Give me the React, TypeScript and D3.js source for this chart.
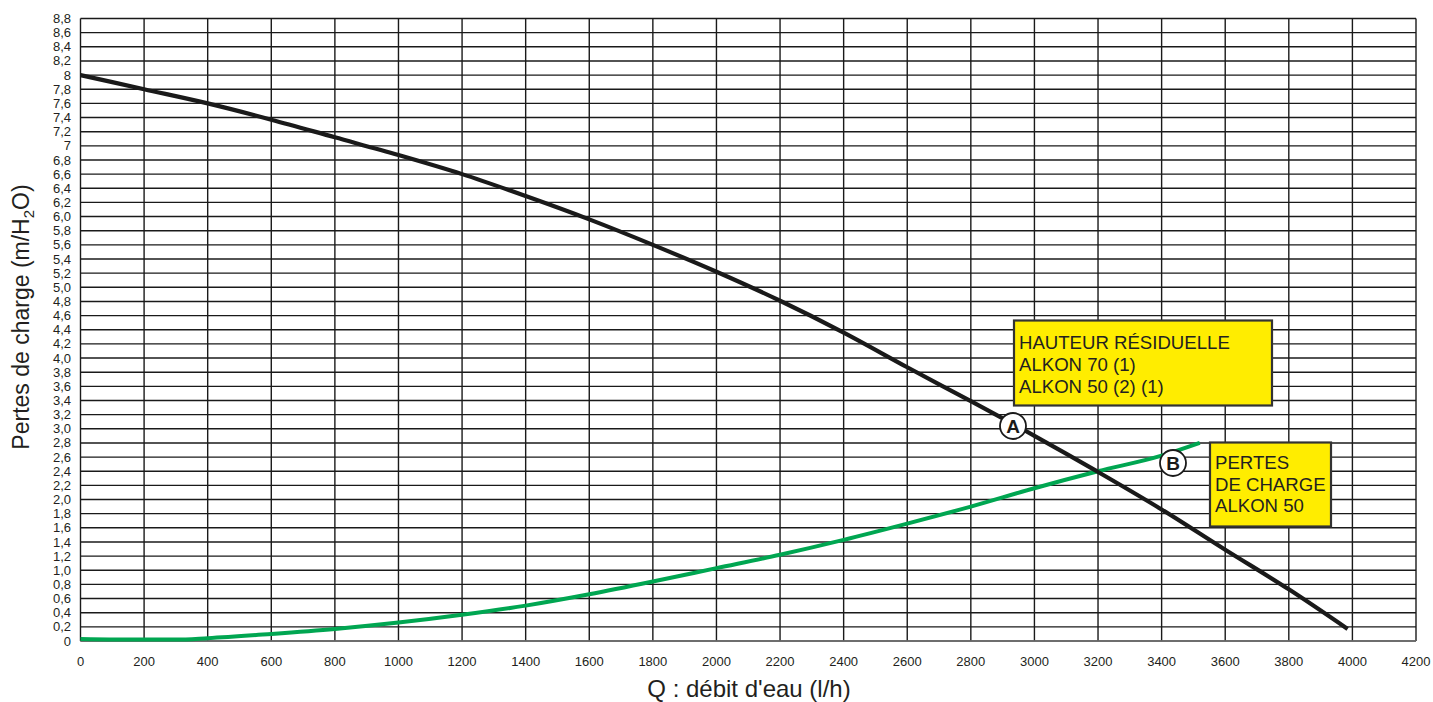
import React from "react";
import * as d3 from "d3";

const xTicks = [0,200,400,600,800,1000,1200,1400,1600,1800,2000,2200,2400,2600,2800,3000,3200,3400,3600,3800,4000,4200];
const yTickValues = [0,0.2,0.4,0.6,0.8,1.0,1.2,1.4,1.6,1.8,2.0,2.2,2.4,2.6,2.8,3.0,3.2,3.4,3.6,3.8,4.0,4.2,4.4,4.6,4.8,5.0,5.2,5.4,5.6,5.8,6.0,6.2,6.4,6.6,6.8,7.0,7.2,7.4,7.6,7.8,8.0,8.2,8.4,8.6,8.8];
const yTickLabels = ["0","0,2","0,4","0,6","0,8","1,0","1,2","1,4","1,6","1,8","2,0","2,2","2,4","2,6","2,8","3,0","3,2","3,4","3,6","3,8","4,0","4,2","4,4","4,6","4,8","5,0","5,2","5,4","5,6","5,8","6,0","6,2","6,4","6,6","6,8","7","7,2","7,4","7,6","7,8","8","8,2","8,4","8,6","8,8"];

const curveAQ = [0,200,400,600,800,1000,1200,1400,1600,1800,2000,2200,2400,2600,2800,3000,3200,3400,3600,3800,3985];
const curveAH = [8.0,7.8,7.6,7.37,7.12,6.87,6.6,6.29,5.96,5.6,5.22,4.81,4.36,3.87,3.39,2.9,2.39,1.86,1.29,0.73,0.17];

const curveBQ = [0,200,300,400,600,800,1000,1200,1400,1600,1800,2000,2200,2400,2600,2800,3000,3200,3400,3520];
const curveBH = [0.03,0.02,0.02,0.04,0.1,0.17,0.26,0.37,0.5,0.66,0.84,1.03,1.22,1.43,1.66,1.9,2.16,2.4,2.62,2.8];

const box1Lines = ["HAUTEUR RÉSIDUELLE", "ALKON 70 (1)", "ALKON 50 (2) (1)"];
const box2Lines = ["PERTES", "DE CHARGE", "ALKON 50"];

const W = 1433, H = 702;
const left = 80.5, right = 1416, top = 18.5, bottom = 641;

export default function App() {
  const x = d3.scaleLinear().domain([0, 4200]).range([left, right]);
  const y = d3.scaleLinear().domain([0, 8.8]).range([bottom, top]);
  const line = d3.line<[number, number]>().x(d => x(d[0])).y(d => y(d[1])).curve(d3.curveMonotoneX);
  const pathA = line(curveAQ.map((q, i) => [q, curveAH[i]]) as [number, number][]) || "";
  const pathB = line(curveBQ.map((q, i) => [q, curveBH[i]]) as [number, number][]) || "";
  const font = "'Liberation Sans', Arial, sans-serif";
  const tc = "#231f20";

  return (
    <svg width={W} height={H} style={{ position: "absolute", left: 0, top: 0, background: "#fff" }} fontFamily={font}>
      <rect x={0} y={0} width={W} height={H} fill="#fff" />
      {yTickValues.map((v, i) => (
        <line key={"h" + i} x1={left} x2={right} y1={y(v)} y2={y(v)} stroke="#1a1a1a" strokeWidth={1.4} />
      ))}
      {xTicks.map((v, i) => (
        <line key={"v" + i} x1={x(v)} x2={x(v)} y1={top} y2={bottom} stroke="#1a1a1a" strokeWidth={1.4} />
      ))}
      <line x1={left} x2={right} y1={bottom} y2={bottom} stroke="#777" strokeWidth={1.6} />
      {yTickValues.map((v, i) => (
        <text key={"yl" + i} x={71} y={y(v)} dy="0.35em" textAnchor="end" fontSize={13} fill={tc}>{yTickLabels[i]}</text>
      ))}
      {xTicks.map((v, i) => (
        <text key={"xl" + i} x={x(v)} y={666} textAnchor="middle" fontSize={13} fill={tc}>{v}</text>
      ))}
      <path d={pathB} fill="none" stroke="#00a651" strokeWidth={4} strokeLinecap="butt" />
      <path d={pathA} fill="none" stroke="#1a1a1a" strokeWidth={4.2} strokeLinecap="butt" />
      <g>
        <circle cx={1013} cy={426} r={13} fill="#fff" stroke="#1a1a1a" strokeWidth={1.8} />
        <text x={1013} y={426} dy="0.36em" textAnchor="middle" fontSize={19} fontWeight="bold" fill="#1a1a1a">A</text>
        <circle cx={1173} cy={463} r={13} fill="#fff" stroke="#1a1a1a" strokeWidth={1.8} />
        <text x={1173} y={463} dy="0.36em" textAnchor="middle" fontSize={19} fontWeight="bold" fill="#1a1a1a">B</text>
      </g>
      <rect x={1014} y={320.5} width={258} height={85} fill="#ffed00" stroke="#333" strokeWidth={2.2} />
      {box1Lines.map((t, i) => (
        <text key={"b1" + i} x={1019} y={349 + i * 22} fontSize={18.6} fill={tc}>{t}</text>
      ))}
      <rect x={1210} y={442.5} width={121} height={84} fill="#ffed00" stroke="#333" strokeWidth={2.2} />
      {box2Lines.map((t, i) => (
        <text key={"b2" + i} x={1215} y={469 + i * 21.5} fontSize={18.6} fill={tc}>{t}</text>
      ))}
      <text x={749} y={697} textAnchor="middle" fontSize={24} fill={tc}>Q : débit d'eau (l/h)</text>
      <text transform={`translate(29, 317) rotate(-90)`} textAnchor="middle" fontSize={23} fill={tc}>
        Pertes de charge (m/H<tspan fontSize={15} dy={5}>2</tspan><tspan dy={-5}>O)</tspan>
      </text>
    </svg>
  );
}
